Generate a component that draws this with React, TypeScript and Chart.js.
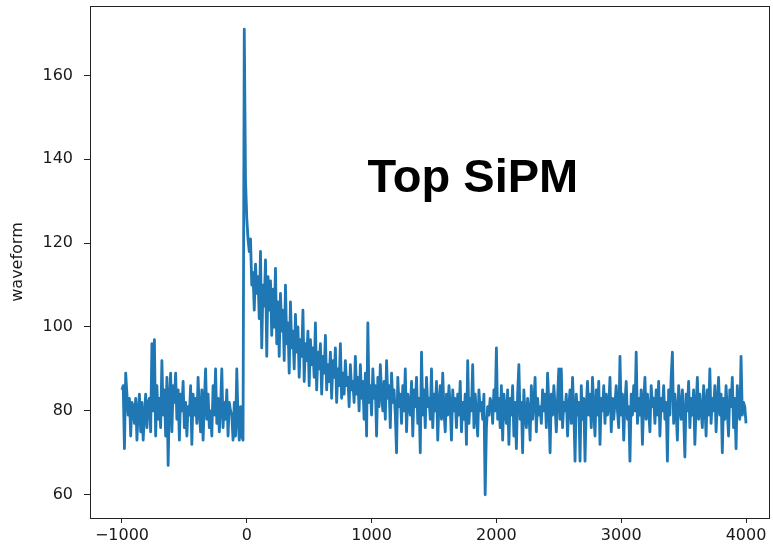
import { useEffect, useRef } from 'react';
import { Chart, registerables } from 'chart.js';

Chart.register(...registerables);

// sampling of the waveform (time axis)
const startTime = -1000;
const sampleStep = 10;

// baseline before the pulse (-1000 .. -30)
const preTrigger = [
  85, 86, 71, 89, 84, 79, 83, 74, 82, 81,
  77, 83, 73, 80, 84, 75, 82, 73, 79, 84,
  76, 82, 83, 75, 96, 80, 97, 74, 86, 78,
  83, 76, 92, 79, 85, 74, 88, 67, 83, 89,
  75, 86, 82, 89, 78, 85, 73, 84, 80, 87,
  76, 82, 74, 81, 79, 86, 72, 84, 79, 83,
  77, 88, 80, 75, 85, 73, 82, 90, 78, 84,
  76, 80, 74, 86, 79, 90, 77, 83, 75, 81,
  90, 76, 82, 78, 85, 74, 82, 80, 79, 73,
  82, 74, 90, 78, 73, 81, 74, 73,
];

// pulse and decay (-20 .. 990)
const pulse = [
  171, 135, 126, 121, 118, 121, 110, 113, 104, 115,
  108, 112, 102, 118, 95, 110, 105, 116, 93, 112,
  104, 111, 98, 109, 100, 114, 96, 106, 93, 108,
  99, 104, 92, 110, 96, 101, 89, 106, 95, 99,
  90, 103, 94, 100, 88, 97, 93, 104, 87, 96,
  92, 99, 86, 97, 91, 95, 88, 101, 85, 94,
  90, 96, 84, 93, 89, 98, 85, 91, 87, 94,
  83, 92, 88, 95, 82, 90, 86, 96, 83, 89,
  84, 92, 86, 88, 81, 91, 85, 87, 82, 93,
  84, 88, 80, 91, 83, 87, 78, 89, 74, 101,
  82, 86,
];

// tail (1000 .. 4000)
const tail = [
  79, 90, 83, 86, 74, 88, 81, 91, 84, 80,
  87, 78, 92, 83, 86, 76, 89, 82, 85, 79,
  70, 88, 81, 84, 77, 86, 80, 90, 75, 84,
  82, 79, 87, 74, 85, 81, 88, 77, 83, 70,
  94, 79, 85, 76, 88, 81, 83, 78, 90, 76,
  84, 80, 87, 73, 82, 86, 78, 89, 80, 75,
  84, 79, 86, 81, 73, 85, 80, 83, 76, 84,
  79, 87, 75, 82, 78, 84, 72, 92, 77, 83,
  80, 91, 76, 84, 79, 74, 85, 80, 82, 78,
  84, 60, 76, 81, 79, 83, 82, 77, 85, 80,
  95, 78, 83, 76, 86, 73, 84, 80, 77, 85,
  72, 83, 79, 86, 74, 82, 71, 84, 91, 78,
  82, 70, 85, 79, 76, 83, 80, 73, 86, 78,
  82, 88, 75, 83, 79, 81, 77, 85, 80, 84,
  76, 89, 82, 70, 84, 79, 86, 81, 75, 83,
  90, 78, 90, 76, 82, 80, 84, 74, 81, 85,
  77, 88, 80, 68, 84, 79, 82, 68, 86, 78,
  83, 68, 81, 87, 79, 84, 76, 88, 80, 74,
  85, 79, 87, 72, 83, 80, 86, 77, 84, 79,
  81, 88, 75, 83, 78, 82, 86, 80, 76, 93,
  79, 84, 73, 82, 87, 78, 81, 68, 84, 79,
  86, 80, 94, 77, 83, 79, 85, 72, 82, 88,
  78, 84, 80, 75, 86, 81, 83, 77, 85, 79,
  87, 74, 83, 80, 86, 78, 82, 68, 85, 79,
  88, 94, 77, 84, 80, 73, 86, 81, 78, 85,
  79, 69, 84, 80, 87, 76, 83, 79, 85, 72,
  81, 88, 78, 84, 80, 76, 86, 82, 74, 85,
  79, 90, 77, 83, 80, 86, 75, 82, 88, 79,
  84, 70, 83, 78, 86, 80, 74, 85, 81, 88,
  76, 83, 71, 86, 80, 78, 93, 79, 82, 81,
  77,
];

const waveform = [...preTrigger, ...pulse, ...tail];
const times = waveform.map((_, i) => startTime + i * sampleStep);

const xTicks = [-1000, 0, 1000, 2000, 3000, 4000];
const yTicks = [60, 80, 100, 120, 140, 160];
const yLabel = 'waveform';
const annotationText = 'Top SiPM';
const annotationAt = { x: 968, y: 132.1 };

const lineColor = '#1f77b4';
const textColor = '#1a1a1a';
const tickFont = { family: '"DejaVu Sans", sans-serif', size: 16 };

const fmt = (v: number) => (v < 0 ? '\u2212' + Math.abs(v) : String(v));

const framePlugin = {
  id: 'frame',
  afterDatasetsDraw(chart: any) {
    const { ctx, chartArea: a, scales } = chart;
    ctx.save();
    ctx.strokeStyle = '#222';
    ctx.lineWidth = 1;
    ctx.strokeRect(Math.round(a.left) + 0.5, Math.round(a.top) + 0.5, Math.round(a.right - a.left) - 1, Math.round(a.bottom - a.top));
    // annotation text in data coordinates
    const px = scales.x.getPixelForValue(annotationAt.x);
    const py = scales.y.getPixelForValue(annotationAt.y);
    ctx.fillStyle = '#000';
    ctx.font = 'bold 47px "Liberation Sans", Arial, sans-serif';
    ctx.textAlign = 'left';
    ctx.textBaseline = 'alphabetic';
    ctx.fillText(annotationText, px, py);
    ctx.restore();
  },
};

export default function App() {
  const ref = useRef<HTMLCanvasElement>(null);
  useEffect(() => {
    if (!ref.current) return;
    const chart = new Chart(ref.current, {
      type: 'line',
      data: {
        datasets: [
          {
            data: waveform.map((y, i) => ({ x: times[i], y })),
            borderColor: lineColor,
            borderWidth: 2.8,
            pointRadius: 0,
            tension: 0,
            borderJoinStyle: 'round',
            fill: false,
          },
        ],
      },
      options: {
        animation: false,
        responsive: false,
        devicePixelRatio: 1,
        layout: { padding: { top: 6, right: 3, left: 0, bottom: 0 } },
        plugins: { legend: { display: false }, tooltip: { enabled: false } },
        scales: {
          x: {
            type: 'linear',
            min: -1256,
            max: 4192,
            afterBuildTicks: (s: any) => {
              s.ticks = xTicks.map((v) => ({ value: v }));
            },
            afterFit: (s: any) => {
              s.height = 30;
              s.paddingLeft = 0;
              s.paddingRight = 0;
            },
            grid: { display: true, drawOnChartArea: false, drawTicks: true, tickLength: 5, color: '#222', lineWidth: 1 },
            border: { display: false },
            ticks: {
              font: tickFont,
              color: textColor,
              padding: 3,
              maxRotation: 0,
              autoSkip: false,
              callback: (v: any) => fmt(Number(v)),
            },
          },
          y: {
            type: 'linear',
            min: 54.45,
            max: 176.55,
            afterBuildTicks: (s: any) => {
              s.ticks = yTicks.map((v) => ({ value: v }));
            },
            afterFit: (s: any) => {
              s.width = 90;
              s.paddingTop = 0;
              s.paddingBottom = 0;
            },
            grid: { display: true, drawOnChartArea: false, drawTicks: true, tickLength: 6, color: '#222', lineWidth: 1 },
            border: { display: false },
            ticks: {
              font: tickFont,
              color: textColor,
              padding: 11,
              autoSkip: false,
              callback: (v: any) => fmt(Number(v)),
            },
            title: {
              display: true,
              text: yLabel,
              font: tickFont,
              color: textColor,
              padding: { top: 8, bottom: 0 },
            },
          },
        },
      },
      plugins: [framePlugin],
    } as any);
    return () => chart.destroy();
  }, []);
  return (
    <div style={{ position: 'fixed', left: 0, top: 0, width: 773, height: 548, background: '#fff' }}>
      <canvas ref={ref} width={773} height={548} />
    </div>
  );
}
